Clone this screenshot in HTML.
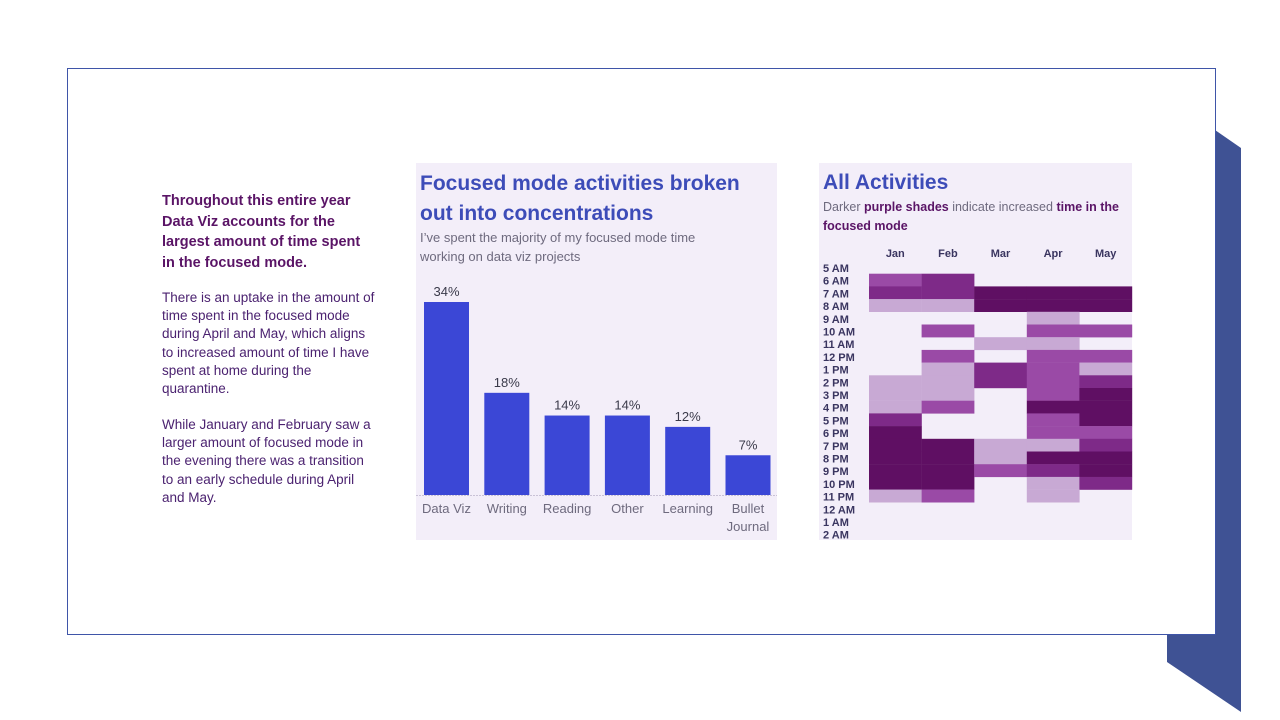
<!DOCTYPE html>
<html><head><meta charset="utf-8">
<style>
body{margin:0;width:1280px;height:720px;background:#fff;position:relative;overflow:hidden;font-family:"Liberation Sans",sans-serif}
.abs{position:absolute}
.txt{color:#4b2270;font-size:13.5px;line-height:18.2px}
</style></head><body>
<svg class="abs" style="left:0;top:0" width="1280" height="720">
<polygon points="1215,130 1241,148 1241,712 1167,662 1167,634 1215,634" fill="#3f5294"/>
</svg>
<div class="abs" style="left:67px;top:68px;width:1147px;height:565px;border:1px solid #3f55a8;background:#fff"></div>

<div class="abs txt" style="left:162px;top:191px;width:205px;font-weight:bold;font-size:14.5px;line-height:20.5px;color:#5a1466">Throughout this entire year Data Viz accounts for the largest amount of time spent in the focused mode.</div>
<div class="abs txt" style="left:162px;top:289px;width:218px">There is an uptake in the amount of time spent in the focused mode during April and May, which aligns to increased amount of time I have spent at home during the quarantine.</div>
<div class="abs txt" style="left:162px;top:416px;width:212px">While January and February saw a larger amount of focused mode in the evening there was a transition to an early schedule during April and May.</div>

<div class="abs" style="left:416px;top:163px;width:361px;height:377px;background:#f3eef9">
<div class="abs" style="left:4px;top:6px;width:355px;font-weight:bold;font-size:21px;line-height:30px;color:#3d4cb8">Focused mode activities broken out into concentrations</div>
<div class="abs" style="left:4px;top:65px;font-size:13px;line-height:19px;color:#6e6a7e">I’ve spent the majority of my focused mode time<br>working on data viz projects</div>
</div>
<svg id="bar" class="abs" style="left:0;top:0" width="1280" height="720"></svg>

<div class="abs" style="left:819px;top:163px;width:313px;height:377px;background:#f3eef9">
<div class="abs" style="left:4px;top:6px;font-weight:bold;font-size:21px;line-height:28px;color:#3d4cb8">All Activities</div>
<div class="abs" style="left:4px;top:35px;width:305px;font-size:12.5px;line-height:19px;color:#6e6a7e">Darker <b style="color:#5a1466">purple shades</b> indicate increased <b style="color:#5a1466">time in the focused mode</b></div>
</div>
<svg id="heat" class="abs" style="left:0;top:0" width="1280" height="720"></svg>

<script>
const barCats=["Data Viz","Writing","Reading","Other","Learning","Bullet Journal"];
const barVals=[34,18,14,14,12,7];
const months=["Jan","Feb","Mar","Apr","May"];
const hours=["5 AM","6 AM","7 AM","8 AM","9 AM","10 AM","11 AM","12 PM","1 PM","2 PM","3 PM","4 PM","5 PM","6 PM","7 PM","8 PM","9 PM","10 PM","11 PM","12 AM","1 AM","2 AM"];
const heatLevels=[
[0,0,0,0,0],[2,3,0,0,0],[3,3,4,4,4],[1,1,4,4,4],[0,0,0,1,0],[0,2,0,2,2],[0,0,1,1,0],[0,2,0,2,2],
[0,1,3,2,1],[1,1,3,2,3],[1,1,0,2,4],[1,2,0,4,4],[3,0,0,2,4],[4,0,0,2,2],[4,4,1,1,3],[4,4,1,4,4],
[4,4,2,3,4],[4,4,0,1,3],[1,2,0,1,0],[0,0,0,0,0],[0,0,0,0,0],[0,0,0,0,0]];
const NS="http://www.w3.org/2000/svg";
function mk(svg,tag,a,t){const e=document.createElementNS(NS,tag);for(const k in a)e.setAttribute(k,a[k]);if(t!==undefined)e.textContent=t;svg.appendChild(e);return e;}
const bs=document.getElementById("bar");
const base=495,pxPer=193/34;
const x=i=>424+i*60.3, y=v=>base-v*pxPer;
mk(bs,"line",{x1:416,x2:777,y1:base+0.5,y2:base+0.5,stroke:"#c9c2d6","stroke-dasharray":"2,1"});
barVals.forEach((v,i)=>{
 const r=mk(bs,"rect",{x:x(i),y:y(v),width:45,height:base-y(v),fill:"#3b47d6"});
 
 
 const t=mk(bs,"text",{x:x(i)+22.5,y:y(v)-6,"text-anchor":"middle","font-size":13,fill:"#3a3a4a"},v+"%");
 
 
 const words=barCats[i]==="Bullet Journal"?["Bullet","Journal"]:[barCats[i]];
 words.forEach((w,j)=>{
  const l=mk(bs,"text",{x:x(i)+22.5,y:513+j*18,"text-anchor":"middle","font-size":13,fill:"#6e6a7e"},w);
  
  
 });
});
const hs=document.getElementById("heat");
const cols=["none","#c8a9d4","#9a4aa6","#7e2a88","#5f0f63"];
const cx=j=>869+j*52.6, ry=i=>261+i*12.7;
months.forEach((m,j)=>{
 const t=mk(hs,"text",{x:cx(j)+26.3,y:257,"text-anchor":"middle","font-size":11,"font-weight":"bold",fill:"#3a3560"},m);
 
 
});
hours.forEach((h,i)=>{
 const t=mk(hs,"text",{x:823,y:ry(i)+11,"font-size":11,"font-weight":"bold",fill:"#3a3560"},h);
 
 
 heatLevels[i].forEach((lv,j)=>{
  if(!lv)return;
  const r=mk(hs,"rect",{x:cx(j),y:ry(i),width:52.8,height:12.9,fill:cols[lv]});
  
  
 });
});
</script>
</body></html>
